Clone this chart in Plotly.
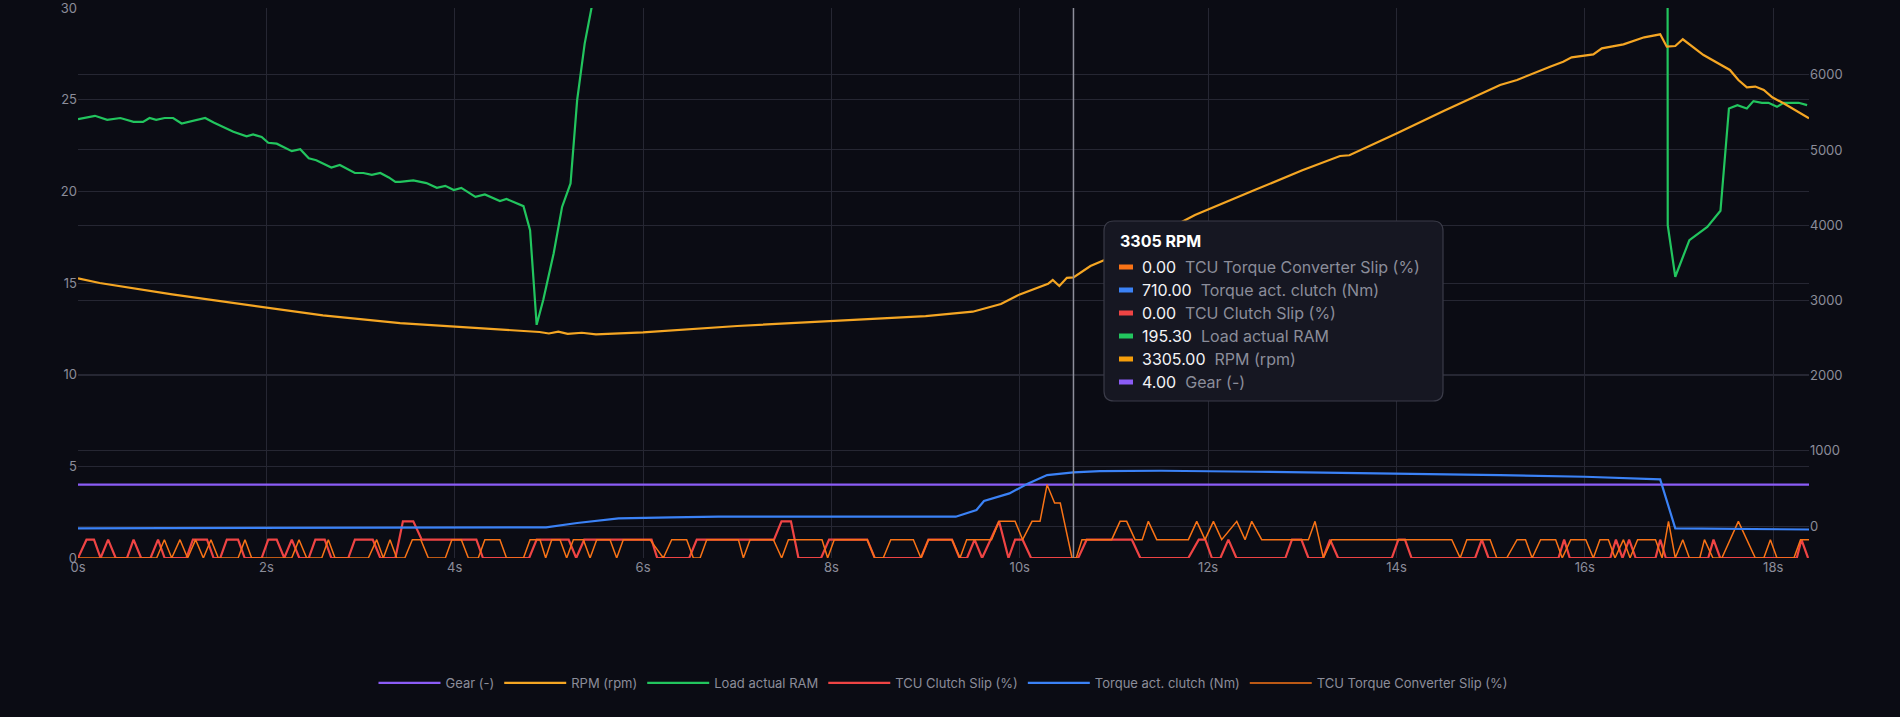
import plotly.graph_objects as go

# ---------------- data ----------------
gear_t = [0.0, 4.0, 8.0, 12.0, 16.0, 18.38]
gear_v = [4, 4, 4, 4, 4, 4]

rpm_t = [0.0, 0.23, 1.0, 2.0, 2.6, 3.42, 4.0, 4.5, 4.9, 5.0, 5.1, 5.2, 5.35, 5.5, 5.7, 6.0,
         7.0, 8.0, 9.0, 9.5, 9.8, 10.0, 10.2, 10.3, 10.35, 10.42, 10.5, 10.57, 10.75, 11.0,
         11.5, 11.86, 12.5, 13.0, 13.4, 13.5, 14.0, 14.5, 15.1, 15.28, 15.63, 15.77, 15.86, 16.09,
         16.18, 16.41, 16.63, 16.80, 16.87, 16.96, 17.04, 17.26, 17.54, 17.63, 17.72, 17.81,
         17.90, 17.99, 18.11, 18.38]
rpm_v = [3294, 3231, 3080, 2903, 2800, 2699, 2650, 2610, 2580, 2560, 2585, 2555, 2570, 2548, 2560, 2575,
         2660, 2726, 2792, 2850, 2952, 3080, 3178, 3220, 3271, 3191, 3300, 3305, 3457, 3590,
         3900, 4136, 4470, 4730, 4920, 4930, 5220, 5520, 5864, 5931, 6108, 6174, 6232, 6272,
         6352, 6405, 6498, 6538, 6374, 6383, 6472, 6263, 6064, 5931, 5834, 5843,
         5798, 5701, 5621, 5421]

load_t = [0.0, 0.18, 0.31, 0.45, 0.59, 0.69, 0.76, 0.83, 0.92, 1.01, 1.10, 1.35, 1.44, 1.65, 1.79,
          1.86, 1.95, 2.02, 2.11, 2.27, 2.36, 2.45, 2.53, 2.69, 2.78, 2.94, 3.03, 3.12, 3.21, 3.30,
          3.37, 3.42, 3.56, 3.70, 3.81, 3.90, 3.99, 4.07, 4.22, 4.32, 4.48, 4.55, 4.73, 4.80, 4.87,
          4.94, 5.05, 5.14, 5.23, 5.30, 5.38, 5.46, 5.6, 6.0, 8.0, 10.57, 13.0, 16.0, 16.86, 16.88,
          16.96, 17.11, 17.21, 17.30, 17.44, 17.53, 17.62, 17.72, 17.79, 17.88, 17.95, 18.04, 18.11,
          18.27, 18.36]
load_v = [23.94, 24.12, 23.9, 24.0, 23.79, 23.79, 24.0, 23.9, 24.0, 24.0, 23.7, 24.0, 23.75, 23.25, 23.0,
          23.1, 22.97, 22.65, 22.6, 22.19, 22.3, 21.8, 21.7, 21.3, 21.44, 21.0, 21.0, 20.9, 21.0, 20.76,
          20.52, 20.52, 20.6, 20.45, 20.19, 20.3, 20.07, 20.19, 19.7, 19.83, 19.47, 19.58, 19.19, 17.88, 12.72,
          14.07, 16.6, 19.15, 20.43, 24.97, 28.06, 30.2, 120, 185, 192, 195.3, 197, 198, 196, 18.16,
          15.34, 17.34, 17.7, 18.06, 18.94, 24.52, 24.7, 24.52, 24.92, 24.83, 24.83, 24.61, 24.83,
          24.83, 24.7]

clutch_t = [0.00, 0.09, 0.17, 0.24, 0.32, 0.40, 0.52, 0.59, 0.67, 0.77, 0.85, 0.92, 1.15, 1.22, 1.37,
            1.44, 1.51, 1.58, 1.70, 1.77, 1.95, 2.02, 2.11, 2.19, 2.27, 2.35, 2.45, 2.52, 2.62, 2.69,
            2.87, 2.94, 3.13, 3.21, 3.37, 3.45, 3.56, 3.65, 4.23, 4.30, 4.79, 4.87, 5.21, 5.29, 5.375,
            6.09, 6.15, 6.49, 6.57, 7.39, 7.47, 7.57, 7.65, 7.89, 7.975, 8.38, 8.46, 8.95, 9.03, 9.28,
            9.36, 9.44, 9.52, 9.60, 9.78, 9.88, 9.95, 10.03, 10.12, 10.62, 10.71, 11.19, 11.28, 11.79,
            11.90, 11.97, 12.04, 12.13, 12.215, 12.30, 12.82, 12.89, 12.99, 13.065, 13.22, 13.295, 13.38,
            13.95, 14.02, 14.09, 14.16, 14.835, 14.906, 14.977, 15.72, 15.78, 15.84, 16.27, 16.33, 16.40,
            16.47, 16.54, 16.75, 16.80, 16.86, 17.31, 17.366, 17.437, 18.25, 18.30, 18.37]
clutch_v = [0, 1, 1, 0, 1, 0, 0, 1, 0, 0, 1, 0, 0, 1, 1,
            0, 0, 1, 1, 0, 0, 1, 1, 0, 1, 0, 0, 1, 1, 0,
            0, 1, 1, 0, 0, 2, 2, 1, 1, 0, 0, 1, 1, 0, 1,
            1, 0, 0, 1, 1, 2, 2, 0, 0, 1, 1, 0, 0, 1, 1,
            0, 0, 1, 0, 2, 0, 1, 1, 0, 0, 1, 1, 0, 0,
            1, 1, 0, 0, 1, 0, 0, 1, 1, 0, 0, 1, 0,
            0, 1, 1, 0, 0, 1, 0, 0, 1, 0, 0, 1, 0,
            1, 0, 0, 1, 0, 0, 1, 0, 0, 1, 0]

tc_t = [0.0, 0.835, 0.917, 0.995, 1.083, 1.164, 1.249, 1.331, 1.412, 1.49, 1.70, 1.773, 1.844, 2.269,
        2.347, 2.428, 2.588, 2.658, 2.729, 3.083, 3.172, 3.242, 3.313, 3.384, 3.47, 3.55, 3.64, 3.72,
        3.90, 3.97, 4.07, 4.145, 4.25, 4.32, 4.48, 4.55, 4.73, 4.80, 4.906, 4.966, 5.03, 5.118, 5.189,
        5.26, 5.366, 5.437, 5.508, 5.649, 5.72, 5.79, 6.074, 6.215, 6.304, 6.463, 6.534, 6.605, 6.676,
        7.012, 7.065, 7.136, 7.384, 7.472, 7.543, 7.90, 7.96, 8.03, 8.38, 8.46, 8.55, 8.63, 8.87, 8.95,
        9.03, 9.28, 9.365, 9.436, 9.70, 9.78, 9.95, 10.03, 10.13, 10.215, 10.29, 10.37, 10.43, 10.555,
        10.60, 10.66, 10.976, 11.065, 11.135, 11.224, 11.30, 11.365, 11.454, 11.79, 11.879, 11.967,
        12.056, 12.144, 12.304, 12.392, 12.463, 12.569, 13.065, 13.135, 13.224, 13.312, 14.587, 14.676,
        14.747, 14.994, 15.065, 15.17, 15.28, 15.37, 15.44, 15.53, 15.69, 15.76, 15.85, 16.01, 16.09,
        16.16, 16.25, 16.32, 16.41, 16.48, 16.56, 16.75, 16.82, 16.888, 16.96, 17.04, 17.11, 17.22,
        17.27, 17.36, 17.455, 17.63, 17.81, 17.90, 17.97, 18.04, 18.22, 18.29, 18.38]
tc_v = [0, 0, 1, 0, 1, 0, 1, 0, 1, 0, 0, 1, 0, 0,
        1, 0, 0, 1, 0, 0, 1, 0, 1, 0, 0, 1, 1, 0,
        0, 1, 1, 0, 0, 1, 1, 0, 0, 1, 1, 0, 1, 1, 0,
        1, 1, 0, 1, 1, 0, 1, 1, 0, 1, 1, 0, 0, 1,
        1, 0, 1, 1, 0, 1, 1, 0, 1, 1, 0, 0, 1, 1, 0,
        1, 1, 0, 1, 1, 2, 2, 1, 2, 2, 4, 3, 3, 0,
        0, 1, 1, 2, 2, 1, 1, 2, 1, 1, 2, 1,
        2, 1, 2, 1, 2, 1, 1, 2, 0, 1, 1, 0,
        1, 1, 0, 0, 1, 1, 0, 1, 1, 0, 1, 1, 0,
        1, 1, 0, 1, 0, 1, 1, 0, 2, 0, 1, 0, 0,
        1, 0, 0, 2, 0, 0, 1, 0, 0, 1, 1]

torque_t = [0.0, 2.0, 4.6, 4.97, 5.3, 5.74, 6.3, 6.8, 8.0, 9.2, 9.32, 9.54, 9.62, 9.89, 10.09,
            10.29, 10.57, 10.85, 11.5, 12.5, 14.0, 15.1, 16.0, 16.8, 16.96, 17.6, 18.38]
torque_v = [-30, -25, -17, -17, 40, 103, 115, 124, 124, 124, 124, 213, 332, 434, 567,
            678, 714, 731, 735, 722, 700, 678, 655, 621, -31, -41, -46]

cursor_t = 10.57
tooltip_title = "3305 RPM"
tooltip_rows = [
    ("0.00", "TCU Torque Converter Slip (%)", "#f97316"),
    ("710.00", "Torque act. clutch (Nm)", "#3b82f6"),
    ("0.00", "TCU Clutch Slip (%)", "#ef4444"),
    ("195.30", "Load actual RAM", "#22c55e"),
    ("3305.00", "RPM (rpm)", "#f59e0b"),
    ("4.00", "Gear (-)", "#8b5cf6"),
]

# ---------------- styling ----------------
BG = "#0b0c14"
GRID = "#262733"
TICK = "#8b8d9a"
FONT = "Inter, Roboto, sans-serif"
LW = 2.2

fig = go.Figure()
fig.add_trace(go.Scatter(x=gear_t, y=gear_v, name="Gear (-)", mode="lines",
                         line=dict(color="#8b5cf6", width=LW)))
fig.add_trace(go.Scatter(x=rpm_t, y=rpm_v, name="RPM (rpm)", mode="lines", yaxis="y2",
                         line=dict(color="#f5a623", width=LW)))
fig.add_trace(go.Scatter(x=load_t, y=load_v, name="Load actual RAM", mode="lines",
                         line=dict(color="#22c55e", width=LW)))
fig.add_trace(go.Scatter(x=clutch_t, y=clutch_v, name="TCU Clutch Slip (%)", mode="lines",
                         line=dict(color="#ef4444", width=LW)))
fig.add_trace(go.Scatter(x=torque_t, y=torque_v, name="Torque act. clutch (Nm)", mode="lines", yaxis="y2",
                         line=dict(color="#3b82f6", width=LW)))
fig.add_trace(go.Scatter(x=tc_t, y=tc_v, name="TCU Torque Converter Slip (%)", mode="lines",
                         line=dict(color="#f97316", width=1.5)))

# plot-area geometry in pixels (for the static tooltip overlay)
L, R, T, B = 78, 1809, 8, 558
W, H = R - L, B - T
def px(x):
    return (x - L) / W
def py(y):
    return (B - y) / H

shapes = [dict(type="line", xref="x", yref="paper", x0=cursor_t, x1=cursor_t, y0=0, y1=1,
               line=dict(color="#8e8f9b", width=1.5), layer="above")]

bx0, bx1, by0, by1 = px(1104), px(1443), py(221), py(401)
rx, ry = 10 / W, 10 / H
path = (f"M {bx0+rx},{by0} L {bx1-rx},{by0} Q {bx1},{by0} {bx1},{by0-ry} "
        f"L {bx1},{by1+ry} Q {bx1},{by1} {bx1-rx},{by1} L {bx0+rx},{by1} "
        f"Q {bx0},{by1} {bx0},{by1+ry} L {bx0},{by0-ry} Q {bx0},{by0} {bx0+rx},{by0} Z")
shapes.append(dict(type="path", xref="paper", yref="paper", path=path,
                   fillcolor="#161722", line=dict(color="#3a3b48", width=1.2), layer="above"))

annotations = [dict(xref="paper", yref="paper", x=px(1118), y=py(241), xanchor="left", yanchor="middle",
                    text=f"<b>{tooltip_title}</b>", showarrow=False,
                    font=dict(family=FONT, size=16, color="#ffffff"))]
for i, (val, lab, col) in enumerate(tooltip_rows):
    yc = 267 + 23 * i
    shapes.append(dict(type="rect", xref="paper", yref="paper", x0=px(1119), x1=px(1133),
                       y0=py(yc + 2.5), y1=py(yc - 2.5), fillcolor=col, line=dict(width=0),
                       layer="above"))
    annotations.append(dict(xref="paper", yref="paper", x=px(1140), y=py(yc), xanchor="left",
                            yanchor="middle", showarrow=False,
                            text=f"<span style='color:#f2f2f5'>{val}</span>  "
                                 f"<span style='color:#8b8d9a'>{lab}</span>",
                            font=dict(family=FONT, size=16, color="#f2f2f5")))

axis_common = dict(showgrid=True, gridcolor=GRID, zeroline=False, showline=False, ticks="",
                   tickfont=dict(size=13, color=TICK), ticklabeloverflow="allow",
                   automargin=False)

fig.update_layout(
    width=1900, height=717,
    margin=dict(l=L, r=1900 - R, t=T, b=717 - B, autoexpand=False),
    paper_bgcolor=BG, plot_bgcolor=BG,
    font=dict(family=FONT, color=TICK, size=13),
    showlegend=True,
    legend=dict(orientation="h", x=0.5, xanchor="center", y=py(683), yanchor="middle",
                font=dict(family=FONT, size=13, color=TICK), bgcolor="rgba(0,0,0,0)",
                itemwidth=62),
    xaxis=dict(range=[0, 18.38], dtick=2, ticksuffix="s", **axis_common),
    yaxis=dict(range=[0, 30], dtick=5, **axis_common),
    yaxis2=dict(range=[-425, 6888], dtick=1000, overlaying="y", side="right", **axis_common),
    shapes=shapes,
    annotations=annotations,
    hovermode=False,
)

fig.write_html("out.html")
